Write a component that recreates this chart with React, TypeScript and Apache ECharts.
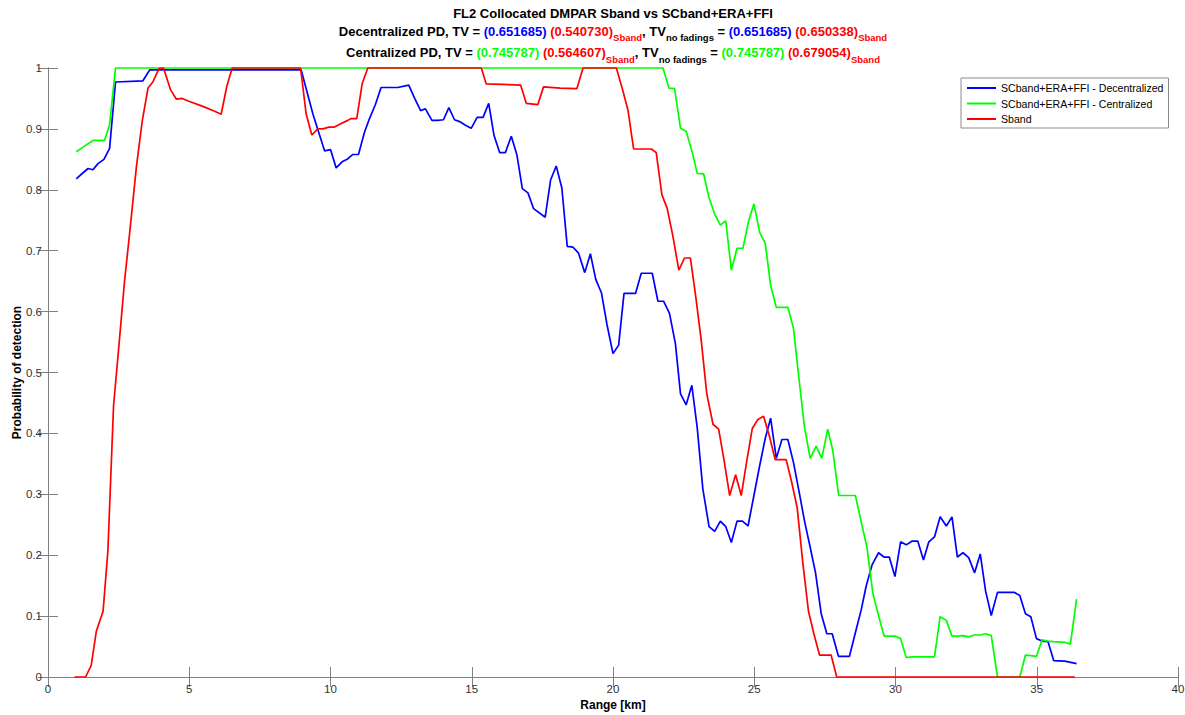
import React, { useEffect, useRef } from "react";
import * as echarts from "echarts";

const BLUE = "#0000ff";
const GREEN = "#00ff00";
const RED = "#ff0000";
const FONT = '"Liberation Sans", Arial, Helvetica, sans-serif';

const TITLE_MAIN = "FL2 Collocated DMPAR Sband vs SCband+ERA+FFI";
const SERIES_NAMES = [
  "SCband+ERA+FFI - Decentralized",
  "SCband+ERA+FFI - Centralized",
  "Sband",
];
const X_NAME = "Range [km]";
const Y_NAME = "Probability of detection";

// TV values from the title
const DEC_TV = "(0.651685)";
const DEC_TV_S = "(0.540730)";
const DEC_TVNF = "(0.651685)";
const DEC_TVNF_S = "(0.650338)";
const CEN_TV = "(0.745787)";
const CEN_TV_S = "(0.564607)";
const CEN_TVNF = "(0.745787)";
const CEN_TVNF_S = "(0.679054)";

// [range km, probability]
const decentralized: [number, number][] = [
  [1.0, 0.818], [1.24, 0.828], [1.42, 0.835], [1.59, 0.833], [1.77, 0.843], [1.98, 0.85], [2.18, 0.868],
  [2.39, 0.977], [3.36, 0.979], [3.6, 0.997], [8.96, 0.997], [9.38, 0.924], [9.79, 0.864], [10.0, 0.866],
  [10.2, 0.836], [10.41, 0.846], [10.59, 0.85], [10.79, 0.858], [10.99, 0.858], [11.2, 0.894], [11.38, 0.917],
  [11.59, 0.94], [11.79, 0.968], [12.38, 0.968], [12.77, 0.972], [12.98, 0.95], [13.19, 0.93], [13.36, 0.933],
  [13.59, 0.914], [13.8, 0.914], [14.0, 0.915], [14.19, 0.935], [14.39, 0.915], [14.57, 0.912], [14.78, 0.906],
  [14.98, 0.901], [15.19, 0.919], [15.4, 0.919], [15.6, 0.942], [15.79, 0.889], [15.99, 0.861], [16.19, 0.861],
  [16.4, 0.888], [16.6, 0.857], [16.79, 0.802], [16.99, 0.795], [17.19, 0.769], [17.6, 0.755], [17.79, 0.816],
  [17.99, 0.839], [18.19, 0.803], [18.38, 0.707], [18.58, 0.706], [18.78, 0.696], [19.0, 0.664], [19.2, 0.695],
  [19.39, 0.653], [19.59, 0.631], [19.79, 0.578], [20.0, 0.531], [20.2, 0.545], [20.39, 0.63], [20.8, 0.63],
  [21.0, 0.663], [21.39, 0.663], [21.59, 0.617], [21.79, 0.617], [22.0, 0.597], [22.21, 0.547], [22.39, 0.465],
  [22.59, 0.447], [22.79, 0.479], [22.98, 0.41], [23.18, 0.309], [23.4, 0.247], [23.6, 0.239], [23.8, 0.256],
  [23.99, 0.247], [24.19, 0.221], [24.39, 0.256], [24.58, 0.256], [24.78, 0.248], [24.98, 0.296], [25.17, 0.342],
  [25.39, 0.392], [25.58, 0.425], [25.78, 0.359], [25.98, 0.39], [26.19, 0.39], [26.39, 0.352], [26.58, 0.306],
  [26.78, 0.256], [26.98, 0.213], [27.17, 0.171], [27.37, 0.104], [27.57, 0.071], [27.76, 0.071], [27.98, 0.034],
  [28.37, 0.034], [28.57, 0.071], [28.79, 0.111], [28.96, 0.149], [29.17, 0.184], [29.4, 0.204], [29.59, 0.197],
  [29.78, 0.197], [29.98, 0.165], [30.18, 0.222], [30.38, 0.217], [30.58, 0.223], [30.79, 0.223], [30.99, 0.192],
  [31.18, 0.222], [31.38, 0.23], [31.58, 0.263], [31.8, 0.248], [32.0, 0.263], [32.19, 0.197], [32.39, 0.204],
  [32.59, 0.196], [32.8, 0.171], [33.0, 0.202], [33.19, 0.141], [33.39, 0.101], [33.61, 0.139], [34.2, 0.139],
  [34.4, 0.134], [34.6, 0.104], [34.79, 0.099], [34.99, 0.063], [35.19, 0.059], [35.4, 0.058], [35.6, 0.027],
  [35.99, 0.026], [36.41, 0.022],
];

const centralized: [number, number][] = [
  [1.0, 0.8625], [1.24, 0.87], [1.59, 0.881], [2.0, 0.881], [2.18, 0.907], [2.39, 1.0], [21.77, 1.0],
  [21.98, 0.967], [22.18, 0.966], [22.39, 0.901], [22.59, 0.896], [22.81, 0.861], [22.98, 0.827], [23.21, 0.826],
  [23.4, 0.787], [23.6, 0.76], [23.8, 0.742], [23.99, 0.749], [24.19, 0.668], [24.39, 0.704], [24.6, 0.704],
  [24.8, 0.749], [24.99, 0.777], [25.19, 0.73], [25.39, 0.712], [25.58, 0.643], [25.78, 0.607], [26.19, 0.607],
  [26.39, 0.572], [26.58, 0.491], [26.78, 0.41], [26.98, 0.359], [27.19, 0.379], [27.39, 0.359], [27.6, 0.407],
  [27.78, 0.372], [27.99, 0.298], [28.58, 0.298], [28.79, 0.254], [28.99, 0.213], [29.2, 0.137], [29.4, 0.101],
  [29.6, 0.067], [30.0, 0.067], [30.18, 0.063], [30.38, 0.032], [30.58, 0.033], [31.38, 0.033], [31.58, 0.099],
  [31.8, 0.093], [32.0, 0.067], [32.19, 0.067], [32.39, 0.068], [32.59, 0.066], [32.8, 0.069], [33.0, 0.069],
  [33.19, 0.071], [33.39, 0.068], [33.61, 0], [34.4, 0], [34.6, 0.036], [34.79, 0.035], [34.99, 0.034],
  [35.19, 0.061], [35.4, 0.059], [35.6, 0.058], [35.99, 0.057], [36.19, 0.054], [36.41, 0.128],
];

const sband: [number, number][] = [
  [0.94, 0], [1.33, 0], [1.53, 0.019], [1.71, 0.075], [1.95, 0.108], [2.12, 0.207], [2.32, 0.445], [2.51, 0.544],
  [2.71, 0.65], [2.89, 0.729], [3.13, 0.838], [3.34, 0.914], [3.54, 0.967], [3.71, 0.977], [3.93, 0.999],
  [4.09, 1.0], [4.34, 0.964], [4.54, 0.949], [4.75, 0.95], [5.01, 0.945], [5.48, 0.937], [5.9, 0.929],
  [6.13, 0.924], [6.33, 0.97], [6.52, 1.0], [8.94, 1.0], [9.14, 0.924], [9.34, 0.89], [9.55, 0.9], [9.73, 0.9],
  [9.94, 0.903], [10.14, 0.903], [10.38, 0.909], [10.61, 0.914], [10.73, 0.917], [10.93, 0.917], [11.12, 0.974],
  [11.32, 1.0], [15.34, 1.0], [15.51, 0.974], [16.73, 0.972], [16.93, 0.942], [17.34, 0.94], [17.54, 0.969],
  [18.13, 0.967], [18.72, 0.966], [18.94, 1.0], [20.12, 1.0], [20.33, 0.966], [20.53, 0.931], [20.73, 0.867],
  [21.36, 0.867], [21.53, 0.861], [21.73, 0.792], [21.92, 0.769], [22.12, 0.724], [22.33, 0.668], [22.53, 0.688],
  [22.74, 0.688], [22.92, 0.628], [23.12, 0.554], [23.32, 0.465], [23.54, 0.415], [23.74, 0.407], [23.93, 0.356],
  [24.13, 0.298], [24.34, 0.332], [24.54, 0.298], [24.74, 0.356], [24.93, 0.408], [25.13, 0.423], [25.33, 0.428],
  [25.54, 0.395], [25.74, 0.357], [26.13, 0.357], [26.33, 0.319], [26.52, 0.278], [26.72, 0.187], [26.92, 0.108],
  [27.11, 0.071], [27.31, 0.036], [27.72, 0.036], [27.92, 0], [36.35, 0],
];

type Frag = { t: string; c: string; sub?: boolean };

const W = 1185;
const H = 715;
const GRID_L = 48;
const GRID_R = 1178;
const GRID_T = 68;
const GRID_B = 677;
const MAIN_SIZE = 13;
const SUB_SIZE = 9.5;
const AXIS_COLOR = "#808080";
const LABEL_COLOR = "#333333";

function measure(text: string, size: number, bold: boolean): number {
  const c = document.createElement("canvas");
  const ctx = c.getContext("2d");
  if (!ctx) return text.length * size * 0.55;
  ctx.font = `${bold ? "bold " : ""}${size}px ${FONT}`;
  return ctx.measureText(text).width;
}

function buildLine(frags: Frag[], cx: number, mainY: number, subY: number) {
  const widths = frags.map((f) => measure(f.t, f.sub ? SUB_SIZE : MAIN_SIZE, true));
  const total = widths.reduce((a, b) => a + b, 0);
  let x = cx - total / 2;
  const els: any[] = [];
  frags.forEach((f, i) => {
    els.push({
      type: "text",
      x,
      y: f.sub ? subY : mainY,
      silent: true,
      style: {
        text: f.t,
        fill: f.c,
        fontSize: f.sub ? SUB_SIZE : MAIN_SIZE,
        fontWeight: "bold",
        fontFamily: FONT,
        textAlign: "left",
        verticalAlign: "middle",
        textVerticalAlign: "middle",
      },
    });
    x += widths[i];
  });
  return els;
}

export default function App() {
  const ref = useRef<HTMLDivElement>(null);

  useEffect(() => {
    if (!ref.current) return;
    const chart = echarts.init(ref.current, undefined, { renderer: "svg" });
    const cx = (GRID_L + GRID_R) / 2;

    const line2: Frag[] = [
      { t: "Decentralized PD, TV = ", c: "#000" },
      { t: DEC_TV, c: BLUE },
      { t: " ", c: "#000" },
      { t: DEC_TV_S, c: RED },
      { t: "Sband", c: RED, sub: true },
      { t: ", TV", c: "#000" },
      { t: "no fadings", c: "#000", sub: true },
      { t: " = ", c: "#000" },
      { t: DEC_TVNF, c: BLUE },
      { t: " ", c: "#000" },
      { t: DEC_TVNF_S, c: RED },
      { t: "Sband", c: RED, sub: true },
    ];
    const line3: Frag[] = [
      { t: "Centralized PD, TV = ", c: "#000" },
      { t: CEN_TV, c: GREEN },
      { t: " ", c: "#000" },
      { t: CEN_TV_S, c: RED },
      { t: "Sband", c: RED, sub: true },
      { t: ", TV", c: "#000" },
      { t: "no fadings", c: "#000", sub: true },
      { t: " = ", c: "#000" },
      { t: CEN_TVNF, c: GREEN },
      { t: " ", c: "#000" },
      { t: CEN_TVNF_S, c: RED },
      { t: "Sband", c: RED, sub: true },
    ];

    const graphics: any[] = [
      ...buildLine([{ t: TITLE_MAIN, c: "#000" }], cx, 13.8, 13.8),
      ...buildLine(line2, cx, 31.6, 37.4),
      ...buildLine(line3, cx, 52.9, 59.0),
      {
        type: "text",
        x: cx,
        y: 705,
        silent: true,
        style: {
          text: X_NAME,
          fill: "#000",
          fontSize: 12,
          fontWeight: "bold",
          fontFamily: FONT,
          textAlign: "center",
          verticalAlign: "middle",
          textVerticalAlign: "middle",
        },
      },
      {
        type: "text",
        x: 17,
        y: (GRID_T + GRID_B) / 2,
        rotation: Math.PI / 2,
        silent: true,
        style: {
          text: Y_NAME,
          fill: "#000",
          fontSize: 12,
          fontWeight: "bold",
          fontFamily: FONT,
          textAlign: "center",
          verticalAlign: "middle",
          textVerticalAlign: "middle",
        },
      },
    ];

    const axisCommon = {
      axisLine: { show: true, lineStyle: { color: AXIS_COLOR, width: 1 } },
      axisTick: { show: true, inside: true, length: 10, lineStyle: { color: AXIS_COLOR, width: 1 } },
      splitLine: { show: false },
    };

    const mkSeries = (name: string, data: [number, number][], color: string) => ({
      type: "line",
      name,
      data,
      xAxisIndex: 0,
      yAxisIndex: 0,
      showSymbol: false,
      symbol: "none",
      clip: false,
      lineStyle: { color, width: 1.7 },
      itemStyle: { color },
      emphasis: { disabled: true },
    });

    chart.setOption({
      animation: false,
      backgroundColor: "#ffffff",
      textStyle: { fontFamily: FONT },
      grid: {
        left: GRID_L,
        right: W - GRID_R,
        top: GRID_T,
        bottom: H - GRID_B,
        containLabel: false,
        outerBoundsMode: "none",
      },
      legend: {
        orient: "vertical",
        left: 961,
        top: 78,
        padding: [4, 5, 3, 6],
        itemGap: 3.5,
        itemWidth: 29,
        itemHeight: 2,
        icon: "rect",
        backgroundColor: "#ffffff",
        borderColor: "#8a8a8a",
        borderWidth: 1,
        borderRadius: 0,
        textStyle: { fontSize: 10.6, lineHeight: 12, color: "#000", fontFamily: FONT },
        data: SERIES_NAMES,
      },
      xAxis: [
        {
          type: "value",
          min: 0,
          max: 40,
          interval: 5,
          position: "bottom",
          ...axisCommon,
          axisLabel: { show: true, color: LABEL_COLOR, fontSize: 11.5, margin: 6, fontFamily: FONT },
        },
        {
          type: "value",
          min: 0,
          max: 40,
          interval: 5,
          position: "top",
          ...axisCommon,
          axisLabel: { show: false },
        },
      ],
      yAxis: [
        {
          type: "value",
          min: 0,
          max: 1,
          interval: 0.1,
          position: "left",
          ...axisCommon,
          axisLabel: { show: true, color: LABEL_COLOR, fontSize: 11.5, margin: 6, fontFamily: FONT },
        },
        {
          type: "value",
          min: 0,
          max: 1,
          interval: 0.1,
          position: "right",
          ...axisCommon,
          axisLabel: { show: false },
        },
      ],
      graphic: graphics,
      series: [
        mkSeries(SERIES_NAMES[0], decentralized, BLUE),
        mkSeries(SERIES_NAMES[1], centralized, GREEN),
        mkSeries(SERIES_NAMES[2], sband, RED),
      ],
    });

    return () => chart.dispose();
  }, []);

  return (
    <div
      ref={ref}
      style={{ position: "fixed", left: 0, top: 0, width: W, height: H, background: "#fff" }}
    />
  );
}
